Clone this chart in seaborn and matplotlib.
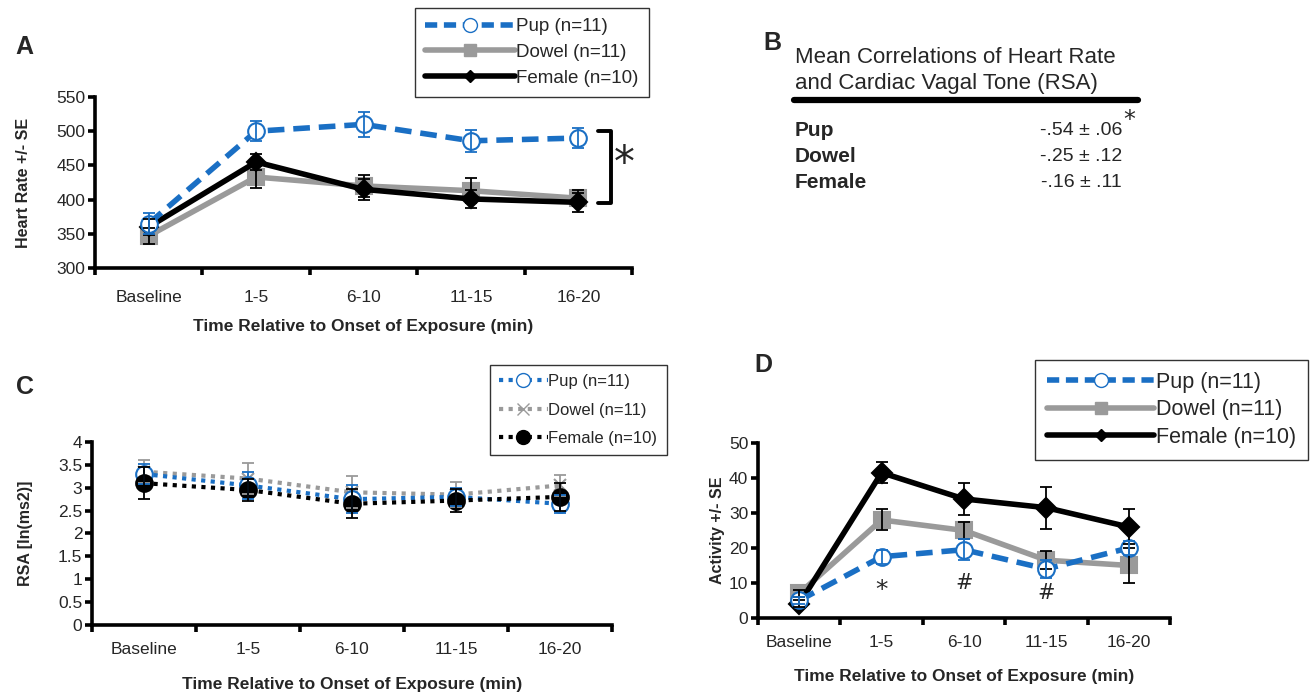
import numpy as np
import pandas as pd
import seaborn as sns
import matplotlib.pyplot as plt
from matplotlib.lines import Line2D
from matplotlib import font_manager

# categories on the x axis
periods = ["Baseline", "1-5", "6-10", "11-15", "16-20"]
groups = ["Pup (n=11)", "Dowel (n=11)", "Female (n=10)"]

# panel A: heart rate (mean, SE)
hr_pup = [365, 500, 510, 486, 490]
hr_pup_se = [15, 15, 18, 16, 14]
hr_dowel = [347, 433, 420, 413, 402]
hr_dowel_se = [12, 16, 16, 18, 12]
hr_female = [360, 455, 415, 401, 396]
hr_female_se = [12, 12, 15, 13, 14]

# panel B: mean correlations
corr_names = ["Pup", "Dowel", "Female"]
corr_vals = ["-.54 \u00b1 .06", "-.25 \u00b1 .12", "-.16 \u00b1 .11"]

# panel C: RSA (mean, SE)
rsa_pup = [3.30, 3.05, 2.75, 2.80, 2.65]
rsa_pup_se = [0.22, 0.30, 0.30, 0.20, 0.20]
rsa_dowel = [3.35, 3.20, 2.90, 2.85, 3.05]
rsa_dowel_se = [0.25, 0.33, 0.35, 0.28, 0.22]
rsa_female = [3.10, 2.95, 2.65, 2.72, 2.80]
rsa_female_se = [0.35, 0.25, 0.32, 0.25, 0.30]

# panel D: activity (mean, SE)
act_pup = [5.0, 17.5, 19.5, 14.0, 20.0]
act_pup_se = [1.0, 2.0, 3.0, 2.5, 2.0]
act_dowel = [7.0, 28.0, 25.0, 16.5, 15.0]
act_dowel_se = [1.0, 3.0, 2.5, 2.5, 5.0]
act_female = [4.0, 41.5, 34.0, 31.5, 26.0]
act_female_se = [1.0, 3.0, 4.5, 6.0, 5.0]
act_marks = ["*", "#", "#"]
act_mark_y = [8, 10, 7]

BLUE = "#1a6fc4"
GRAY = "#9a9a9a"
BLACK = "#000000"

sns.set_theme(style="white")
installed = {f.name for f in font_manager.fontManager.ttflist}
NARROW = "Liberation Sans Narrow" if "Liberation Sans Narrow" in installed else "Liberation Sans"
SANS = ["Liberation Sans", "DejaVu Sans"]
plt.rcParams["font.family"] = [NARROW, "DejaVu Sans"]
plt.rcParams["axes.linewidth"] = 2.6

fig = plt.figure(figsize=(13.14, 6.92), dpi=100)
x = np.arange(len(periods))


def style_axes(ax, ylim, yticks, ylabel, xlabel, xpad=12, xlpad=14, ylpad=18):
    ax.set_xlim(-0.5, len(periods) - 0.5)
    ax.set_ylim(*ylim)
    ax.set_yticks(yticks)
    ax.set_yticklabels([f"{t:g}" for t in yticks], fontsize=12.5)
    # ticks on the x axis sit between categories
    ax.set_xticks(np.arange(len(periods) + 1) - 0.5)
    ax.set_xticklabels([])
    ax.set_xticks(x, minor=True)
    ax.set_xticklabels(periods, minor=True, fontsize=12.5)
    ax.tick_params(axis="x", which="minor", length=0, pad=xpad)
    ax.tick_params(axis="both", which="major", direction="out", length=5, width=2.6,
                   color="black", left=True, bottom=True)
    ax.tick_params(axis="y", pad=2)
    sns.despine(ax=ax)
    for s in ["left", "bottom"]:
        ax.spines[s].set_color("black")
    ax.set_ylabel(ylabel, fontsize=11.5, fontweight="bold", family=SANS, labelpad=ylpad)
    ax.set_xlabel(xlabel, fontsize=12.5, fontweight="bold", labelpad=xlpad)
    ax.grid(False)


def draw_series(ax, vals, se, color, ls, marker, ms, mfc, lw, ecolor, name):
    df = pd.DataFrame({"x": x, "y": vals})
    sns.lineplot(data=df, x="x", y="y", ax=ax, color=color, linestyle=ls, linewidth=lw,
                 marker=marker, markersize=ms, markerfacecolor=mfc, markeredgecolor=color,
                 markeredgewidth=1.5, label=name, legend=False)
    ax.errorbar(x, vals, yerr=se, fmt="none", ecolor=ecolor, elinewidth=1.3, capsize=4,
                capthick=1.3, zorder=5)


def add_legend(handles, corner, size=13.5, hlen=4.8, spacing=0.45):
    leg = fig.legend(handles=handles, labels=groups, loc="upper left", bbox_to_anchor=corner,
                     frameon=True, fancybox=False, fontsize=size, handlelength=hlen,
                     handletextpad=0.05, borderpad=0.55, labelspacing=spacing,
                     borderaxespad=0)
    leg.get_frame().set_edgecolor("black")
    leg.get_frame().set_linewidth(1.0)
    return leg


def solid_handles():
    return [
        Line2D([], [], color=BLUE, ls=(0, (2.2, 1.2)), lw=4, marker="o", ms=10, mfc="white", mec=BLUE),
        Line2D([], [], color=GRAY, lw=4, marker="s", ms=9, mfc=GRAY, mec=GRAY),
        Line2D([], [], color=BLACK, lw=4, marker="D", ms=6, mfc=BLACK, mec=BLACK),
    ]


xlab = "Time Relative to Onset of Exposure (min)"

# ---------- panel A ----------
axA = fig.add_axes([0.0723, 0.6127, 0.4087, 0.2471])
draw_series(axA, hr_dowel, hr_dowel_se, GRAY, "-", "s", 11, GRAY, 4, BLACK, groups[1])
draw_series(axA, hr_female, hr_female_se, BLACK, "-", "D", 9, BLACK, 4, BLACK, groups[2])
draw_series(axA, hr_pup, hr_pup_se, BLUE, (0, (3, 1.6)), "o", 12, "white", 4, BLUE, groups[0])
style_axes(axA, (300, 550), np.arange(300, 551, 50), "Heart Rate +/- SE", xlab,
           xpad=16, xlpad=10)
# significance bracket
axA.plot([4.18, 4.30, 4.30, 4.18], [500, 500, 395, 395], color="black", lw=2.8,
         clip_on=False)
axA.text(4.43, 452, "*", fontsize=30, ha="center", va="center", family="DejaVu Sans")
add_legend(solid_handles(), (415 / 1314, 1 - 8 / 692))
fig.text(0.012, 0.922, "A", fontsize=18, fontweight="bold", family=SANS)

# ---------- panel B ----------
fig.text(0.581, 0.928, "B", fontsize=18, fontweight="bold", family=SANS)
fig.text(0.605, 0.932, "Mean Correlations of Heart Rate\nand Cardiac Vagal Tone (RSA)",
         fontsize=16, va="top", ha="left", linespacing=1.32, family=SANS)
fig.add_artist(Line2D([0.604, 0.866], [0.855, 0.855], color="black", lw=4.5))
for i, (nm, v) in enumerate(zip(corr_names, corr_vals)):
    yy = 0.812 - i * 0.038
    fig.text(0.605, yy, nm, fontsize=15, fontweight="bold", va="center", family=SANS)
    fig.text(0.854, yy, v, fontsize=14, va="center", ha="right", family=SANS)
fig.text(0.855, 0.826, "*", fontsize=17, va="center", ha="left", family="DejaVu Sans")

# ---------- panel C ----------
axC = fig.add_axes([0.070, 0.0968, 0.3957, 0.2645])
draw_series(axC, rsa_dowel, rsa_dowel_se, GRAY, (0, (1, 1.3)), "x", 9, GRAY, 3, GRAY, groups[1])
draw_series(axC, rsa_pup, rsa_pup_se, BLUE, (0, (1, 1.3)), "o", 12, "white", 3, BLUE, groups[0])
draw_series(axC, rsa_female, rsa_female_se, BLACK, (0, (1, 1.3)), "o", 12, BLACK, 3, BLACK, groups[2])
style_axes(axC, (0, 4), np.arange(0, 4.01, 0.5), "RSA [ln(ms2)]", xlab, xlpad=14.5)
add_legend([
    Line2D([], [], color=BLUE, ls=(0, (1, 1.3)), lw=3, marker="o", ms=10, mfc="white", mec=BLUE),
    Line2D([], [], color=GRAY, ls=(0, (1, 1.3)), lw=3, marker="x", ms=9, mec=GRAY),
    Line2D([], [], color=BLACK, ls=(0, (1, 1.3)), lw=3, marker="o", ms=10, mfc=BLACK, mec=BLACK),
], (490 / 1314, 1 - 365 / 692), size=12, hlen=2.9, spacing=0.8)
fig.text(0.012, 0.43, "C", fontsize=18, fontweight="bold", family=SANS)

# ---------- panel D ----------
axD = fig.add_axes([0.5769, 0.107, 0.3135, 0.2529])
draw_series(axD, act_dowel, act_dowel_se, GRAY, "-", "s", 11, GRAY, 4, BLACK, groups[1])
draw_series(axD, act_female, act_female_se, BLACK, "-", "D", 10, BLACK, 4, BLACK, groups[2])
draw_series(axD, act_pup, act_pup_se, BLUE, (0, (3, 1.6)), "o", 12, "white", 4, BLUE, groups[0])
style_axes(axD, (0, 50), np.arange(0, 51, 10), "Activity +/- SE", xlab, xlpad=14, ylpad=3)
for xi, m, yy in zip(x[1:4], act_marks, act_mark_y):
    axD.text(xi, yy, m, fontsize=18 if m == "*" else 15, ha="center", va="center",
             family="DejaVu Sans")
add_legend(solid_handles(), (1035 / 1314, 1 - 360 / 692), size=15.5, hlen=5.0, spacing=0.3)
fig.text(0.574, 0.462, "D", fontsize=18, fontweight="bold", family=SANS)

fig.savefig("out.png", dpi=100)
